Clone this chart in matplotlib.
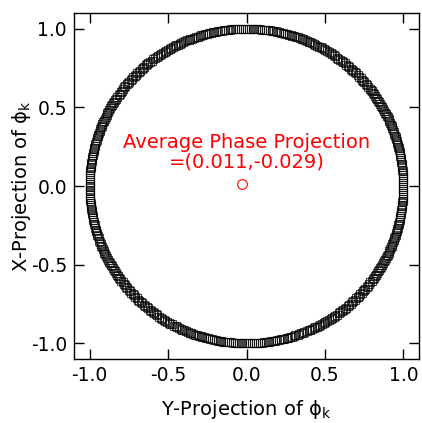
import numpy as np
import matplotlib
matplotlib.use("Agg")
import matplotlib.pyplot as plt

# phase angles (degrees) of individual projections, read from the ring (two sample sets)
angles_deg_a = [0.4, 1.9, 3.1, 4.8, 6.0, 7.7, 8.9, 10.2, 11.6, 13.3, 14.5, 15.9, 17.4, 18.6, 20.1, 21.8, 23.0, 24.3,
                25.9, 27.2, 28.4, 30.0, 31.5, 32.7, 34.2, 35.8, 37.1, 38.3, 39.9, 41.4, 42.6, 44.0, 45.7, 47.0, 48.2,
                49.8, 51.3, 52.5, 54.1, 55.6, 56.8, 58.2, 59.9, 61.1, 62.4, 64.0, 65.3, 66.7, 68.2, 69.4, 70.9, 72.5,
                73.7, 75.0, 76.6, 78.1, 79.3, 80.8, 82.2, 83.5, 85.1, 86.4, 87.6, 89.2, 90.7, 91.9, 93.4, 94.8, 96.1,
                97.7, 99.0, 100.3, 101.9, 103.2, 104.6, 106.1, 107.3, 108.8, 110.4, 111.6, 113.0, 114.5, 115.9, 117.2,
                118.8, 120.1, 121.3, 122.9, 124.4, 125.6, 127.1, 128.7, 129.9, 131.2, 132.8, 134.3, 135.5, 137.0,
                138.6, 139.8, 141.1, 142.7, 144.0, 145.4, 147.0, 148.2, 149.6, 151.1, 152.5, 153.8, 155.4, 156.7,
                158.0, 159.5, 161.0, 162.2, 163.7, 165.3, 166.5, 167.9, 169.4, 170.7, 172.1, 173.6, 175.0, 176.3,
                177.9, 179.2, 180.5, 182.0, 183.4, 184.7, 186.3, 187.6, 188.9, 190.4, 191.9, 193.1, 194.5, 196.1,
                197.4, 198.7, 200.3, 201.6, 202.9, 204.5, 205.8, 207.2, 208.7, 210.0, 211.4, 212.9, 214.3, 215.6,
                217.1, 218.5, 219.8, 221.4, 222.7, 224.0, 225.6, 226.9, 228.3, 229.8, 231.1, 232.5, 234.0, 235.4,
                236.8, 238.3, 239.6, 241.0, 242.5, 243.8, 245.2, 246.7, 248.1, 249.4, 251.0, 252.3, 253.6, 255.2,
                256.5, 257.9, 259.4, 260.8, 262.1, 263.6, 265.0, 266.4, 267.9, 269.2, 270.6, 272.1, 273.5, 274.8,
                276.3, 277.7, 279.0, 280.6, 281.9, 283.3, 284.8, 286.1, 287.5, 289.0, 290.4, 291.7, 293.3, 294.6,
                296.0, 297.5, 298.8, 300.2, 301.8, 303.1, 304.4, 306.0, 307.3, 308.7, 310.2, 311.6, 312.9, 314.5,
                315.8, 317.2, 318.7, 320.0, 321.4, 323.0, 324.3, 325.6, 327.2, 328.5, 329.9, 331.4, 332.8, 334.1,
                335.7, 337.0, 338.4, 339.9, 341.2, 342.6, 344.1, 345.5, 346.8, 348.4, 349.7, 351.1, 352.6, 354.0,
                355.3, 356.9, 358.2, 359.6]
angles_deg_b = [1.1, 2.6, 3.9, 5.5, 6.8, 8.2, 9.6, 11.0, 12.4, 13.9, 15.2, 16.7, 18.0, 19.4, 20.9, 22.3, 23.7, 25.1,
                26.5, 27.8, 29.3, 30.7, 32.1, 33.5, 34.9, 36.4, 37.7, 39.2, 40.6, 41.9, 43.3, 44.8, 46.2, 47.6, 49.0,
                50.4, 51.9, 53.2, 54.7, 56.1, 57.5, 59.0, 60.4, 61.8, 63.2, 64.6, 66.0, 67.4, 68.9, 70.2, 71.6, 73.1,
                74.4, 75.8, 77.3, 78.7, 80.1, 81.5, 82.9, 84.3, 85.7, 87.1, 88.5, 89.9, 91.3, 92.7, 94.1, 95.5, 96.9,
                98.3, 99.7, 101.1, 102.5, 103.9, 105.3, 106.7, 108.1, 109.6, 111.0, 112.3, 113.8, 115.2, 116.6, 118.0,
                119.4, 120.8, 122.2, 123.6, 125.0, 126.4, 127.8, 129.2, 130.6, 132.0, 133.5, 134.9, 136.3, 137.7,
                139.1, 140.5, 141.9, 143.3, 144.7, 146.2, 147.6, 149.0, 150.4, 151.8, 153.2, 154.6, 156.0, 157.4,
                158.8, 160.2, 161.6, 163.0, 164.5, 165.9, 167.3, 168.7, 170.1, 171.5, 172.9, 174.3, 175.7, 177.1,
                178.5, 179.9, 181.3, 182.7, 184.1, 185.5, 186.9, 188.3, 189.7, 191.1, 192.5, 193.9, 195.3, 196.7,
                198.1, 199.5, 200.9, 202.3, 203.7, 205.1, 206.5, 207.9, 209.3, 210.7, 212.1, 213.6, 215.0, 216.4,
                217.8, 219.2, 220.6, 222.0, 223.4, 224.8, 226.2, 227.6, 229.0, 230.4, 231.8, 233.2, 234.7, 236.1,
                237.5, 238.9, 240.3, 241.7, 243.1, 244.5, 245.9, 247.4, 248.8, 250.2, 251.6, 253.0, 254.4, 255.8,
                257.2, 258.6, 260.1, 261.5, 262.9, 264.3, 265.7, 267.1, 268.5, 269.9, 271.3, 272.8, 274.2, 275.6,
                277.0, 278.4, 279.8, 281.2, 282.6, 284.0, 285.4, 286.8, 288.2, 289.7, 291.1, 292.5, 293.9, 295.3,
                296.7, 298.1, 299.5, 300.9, 302.4, 303.8, 305.2, 306.6, 308.0, 309.4, 310.9, 312.3, 313.7, 315.1,
                316.5, 317.9, 319.3, 320.7, 322.2, 323.6, 325.0, 326.4, 327.8, 329.2, 330.6, 332.0, 333.4, 334.9,
                336.3, 337.7, 339.1, 340.5, 341.9, 343.3, 344.7, 346.1, 347.6, 349.0, 350.4, 351.8, 353.2, 354.6,
                356.1, 357.5, 358.9]

avg_y_proj = -0.029
avg_x_proj = 0.011
avg_label = "Average Phase Projection\n=(0.011,-0.029)"

ticks = [-1.0, -0.5, 0.0, 0.5, 1.0]
tick_labels = ["-1.0", "-0.5", "0.0", "0.5", "1.0"]

theta = np.deg2rad(np.array(angles_deg_a + angles_deg_b))
ring_y = np.cos(theta)
ring_x = np.sin(theta)

plt.rcParams['font.family'] = ['DejaVu Sans']
plt.rcParams['mathtext.fontset'] = 'dejavusans'

fig = plt.figure(figsize=(4.22, 4.23), dpi=100)
ax = fig.add_axes([74/422, 64/423, 345/422, 346/423])

ax.plot(ring_y, ring_x, linestyle='none', marker='s', ms=5.8, mfc='none',
        mec=(0, 0, 0, 0.7), mew=0.8)
ax.plot([avg_y_proj], [avg_x_proj], linestyle='none', marker='o', ms=7,
        mfc='none', mec='red', mew=0.8)
ax.text(0.0, 0.215, avg_label, color='red', ha='center', va='center',
        fontsize=14, linespacing=1.05)

ax.set_xlim(-1.1, 1.1)
ax.set_ylim(-1.1, 1.1)
ax.set_xticks(ticks)
ax.set_xticklabels(tick_labels)
ax.set_yticks(ticks)
ax.set_yticklabels(tick_labels)
ax.tick_params(direction='in', length=7, width=1, top=True, right=True,
               labelsize=13.5, pad=5)
for s in ax.spines.values():
    s.set_linewidth(1.0)

ax.set_xlabel('Y-Projection of ϕ$_\\mathregular{k}$', fontsize=14)
ax.set_ylabel('X-Projection of ϕ$_\\mathregular{k}$', fontsize=14)
ax.xaxis.set_label_coords(0.5, -0.113)
ax.yaxis.set_label_coords(-0.12, 0.5)

fig.savefig('out.png', dpi=100)
